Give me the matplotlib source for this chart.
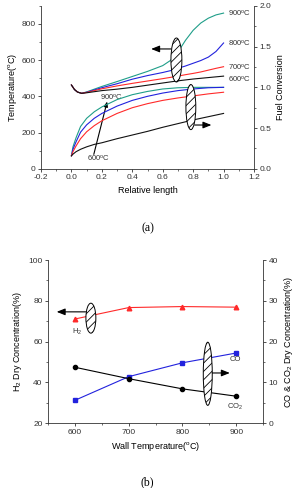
import matplotlib

matplotlib.use("Agg")
import matplotlib.pyplot as plt
from matplotlib.patches import Ellipse
from matplotlib.ticker import MultipleLocator

plt.rcParams["font.family"] = ["Liberation Sans", "DejaVu Sans"]
plt.rcParams["mathtext.fontset"] = "custom"
plt.rcParams["mathtext.rm"] = "Liberation Sans"
plt.rcParams["mathtext.it"] = "Liberation Sans"
plt.rcParams["hatch.linewidth"] = 0.6

# --- panel (a): temperature and fuel conversion along the reactor -----------
x_temp = [0, 0.02, 0.04, 0.067, 0.1, 0.2, 0.3, 0.4, 0.5, 0.6, 0.65, 0.7,
          0.75, 0.8, 0.85, 0.9, 0.95, 1.0]
temp_900 = [463, 438, 424, 417, 425, 455, 482, 510, 538, 570, 598, 645,
            710, 765, 805, 832, 850, 860]
temp_800 = [463, 438, 424, 417, 423, 448, 470, 495, 515, 532, 542, 555,
            568, 583, 598, 617, 648, 695]
temp_700 = [463, 438, 424, 417, 422, 442, 458, 472, 485, 498, 505, 512,
            520, 527, 535, 545, 555, 564]
temp_600 = [463, 438, 424, 417, 420, 432, 440, 450, 462, 474, 480, 486,
            491, 496, 500, 504, 508, 512]

x_conv = [0, 0.01, 0.03, 0.06, 0.1, 0.15, 0.2, 0.3, 0.4, 0.5, 0.6, 0.7,
          0.8, 0.9, 1.0]
conv_900 = [0.16, 0.27, 0.38, 0.52, 0.62, 0.70, 0.76, 0.85, 0.91, 0.95,
            0.98, 0.995, 1.0, 1.0, 1.0]
conv_800 = [0.16, 0.24, 0.33, 0.45, 0.54, 0.62, 0.68, 0.77, 0.84, 0.89,
            0.93, 0.96, 0.98, 0.995, 1.0]
conv_700 = [0.16, 0.21, 0.28, 0.37, 0.455, 0.53, 0.59, 0.68, 0.75, 0.80,
            0.84, 0.87, 0.895, 0.92, 0.94]
conv_600 = [0.16, 0.18, 0.21, 0.24, 0.27, 0.30, 0.32, 0.37, 0.415, 0.46,
            0.51, 0.555, 0.60, 0.64, 0.68]

wall_labels = ["600", "700", "800", "900"]

# --- panel (b): dry gas composition vs wall temperature ----------------------
wall_temp = [600, 700, 800, 900]
h2_conc = [71.1, 76.7, 77.2, 76.9]
co_conc = [5.6, 11.4, 14.8, 17.2]
co2_conc = [13.7, 10.9, 8.4, 6.6]

colors = {"900": "#1f9e89", "800": "#2222dd", "700": "#ff2a2a", "600": "#111111"}
deg = r"$^{\mathrm{o}}$C"
fs_tick = 6
fs_label = 6.5


def style_axes(ax, right=False):
    ax.spines["top"].set_visible(False)
    if not right:
        ax.spines["right"].set_visible(False)
    for s in ax.spines.values():
        s.set_linewidth(0.6)
        s.set_color("#333333")
    ax.tick_params(which="major", direction="out", length=2.5, width=0.6,
                   labelsize=fs_tick, pad=1.5, colors="#333333")
    ax.tick_params(which="minor", direction="out", length=1.5, width=0.5,
                   colors="#333333")


def hatched_ellipse(ax, xy, w, h):
    e = Ellipse(xy, w, h, facecolor="white", edgecolor="black", lw=0.7,
                hatch="////", zorder=5)
    ax.add_patch(e)


def arrow(ax, start, end, head=0.5, width=0.2):
    style = f"-|>,head_length={head},head_width={width}"
    ax.annotate("", xy=end, xytext=start,
                arrowprops=dict(arrowstyle=style, color="black", lw=0.8,
                                shrinkA=0, shrinkB=0),
                zorder=6)


fig = plt.figure(figsize=(2.95, 4.88), dpi=100)

# panel (a)
ax = fig.add_axes([0.139, 0.654, 0.722, 0.334])
ax2 = ax.twinx()
temps = [temp_900, temp_800, temp_700, temp_600]
convs = [conv_900, conv_800, conv_700, conv_600]
for lab, t, c in zip(wall_labels[::-1], temps, convs):
    ax.plot(x_temp, t, color=colors[lab], lw=0.8, zorder=2)
    ax2.plot(x_conv, c, color=colors[lab], lw=0.8, zorder=2)

ax.set_xlim(-0.2, 1.2)
ax.set_ylim(0, 900)
ax2.set_ylim(0, 2.0)
ax.xaxis.set_major_locator(MultipleLocator(0.2))
ax.xaxis.set_minor_locator(MultipleLocator(0.1))
ax.yaxis.set_major_locator(MultipleLocator(200))
ax.yaxis.set_minor_locator(MultipleLocator(100))
ax2.yaxis.set_major_locator(MultipleLocator(0.5))
ax2.yaxis.set_minor_locator(MultipleLocator(0.25))
style_axes(ax)
style_axes(ax2, right=True)
ax2.spines["left"].set_visible(False)
ax2.spines["bottom"].set_visible(False)
ax.set_xticklabels([f"{v:.1f}" for v in ax.get_xticks()])
ax2.set_yticklabels([f"{v:.1f}" for v in ax2.get_yticks()])
ax.set_xlabel("Relative length", fontsize=fs_label, labelpad=3)
ax.set_ylabel("Temperature(" + deg + ")", fontsize=fs_label, labelpad=2)
ax2.set_ylabel("Fuel Conversion", fontsize=fs_label, labelpad=3)

for lab, y in zip(wall_labels[::-1], [861, 695, 563, 496]):
    ax.text(1.027, y, lab + deg, fontsize=5.5, va="center", ha="left",
            color="#333333")

# ellipses and arrows (ax2 carries them on top of every curve)
scale = 2.0 / 900
hatched_ellipse(ax2, (0.69, 601 * scale), 0.072, 243 * scale)
arrow(ax2, (0.654, 662 * scale), (0.524, 662 * scale))
hatched_ellipse(ax2, (0.785, 341 * scale), 0.065, 249 * scale)
arrow(ax2, (0.81, 242 * scale), (0.92, 242 * scale))

ax.text(0.185, 398, "900" + deg, fontsize=5.5, va="center", ha="left",
        color="#333333")
ax.text(0.10, 62, "600" + deg, fontsize=5.5, va="center", ha="left",
        color="#333333")
arrow(ax, (0.147, 80), (0.235, 372), head=0.3, width=0.12)

fig.text(0.5, 1 - 228 / 488, "(a)", fontsize=8.5, ha="center", va="center",
         family=["Liberation Serif", "DejaVu Serif"])

# panel (b)
bx = fig.add_axes([0.163, 0.133, 0.729, 0.334])
bx2 = bx.twinx()
bx.plot(wall_temp, h2_conc, color="#ff2a2a", marker="^", ms=3.3, lw=0.8)
bx2.plot(wall_temp, co_conc, color="#2222dd", marker="s", ms=2.8, lw=0.8)
bx2.plot(wall_temp, co2_conc, color="black", marker="o", ms=3.0, lw=0.8)

bx.set_xlim(550, 950)
bx.set_ylim(20, 100)
bx2.set_ylim(0, 40)
bx.xaxis.set_major_locator(MultipleLocator(100))
bx.xaxis.set_minor_locator(MultipleLocator(50))
bx.yaxis.set_major_locator(MultipleLocator(20))
bx.yaxis.set_minor_locator(MultipleLocator(10))
bx2.yaxis.set_major_locator(MultipleLocator(10))
bx2.yaxis.set_minor_locator(MultipleLocator(5))
style_axes(bx)
style_axes(bx2, right=True)
bx2.spines["left"].set_visible(False)
bx2.spines["bottom"].set_visible(False)
bx.set_xlabel("Wall Temperature(" + deg + ")", fontsize=fs_label, labelpad=3)
bx.set_ylabel(r"H$_2$ Dry Concentration(%)", fontsize=fs_label, labelpad=3)
bx2.set_ylabel(r"CO & CO$_2$ Dry Concentration(%)", fontsize=fs_label,
               labelpad=3)

hatched_ellipse(bx, (629.6, 71.5), 18.5, 14.7)
arrow(bx, (620, 74.6), (566, 74.6))
bx.text(604.6, 64.6, r"H$_2$", fontsize=5.5, ha="center", va="center",
        color="#333333")
hatched_ellipse(bx2, (847, 12.1), 16.7, 15.5)
arrow(bx2, (855.5, 12.3), (888, 12.3))
bx2.text(899, 15.6, "CO", fontsize=5.5, ha="center", va="center",
         color="#333333")
bx2.text(897, 3.9, r"CO$_2$", fontsize=5.5, ha="center", va="center",
         color="#333333")

fig.text(0.5, 1 - 482 / 488, "(b)", fontsize=8.5, ha="center", va="center",
         family=["Liberation Serif", "DejaVu Serif"])

fig.savefig("out.png", dpi=100)
